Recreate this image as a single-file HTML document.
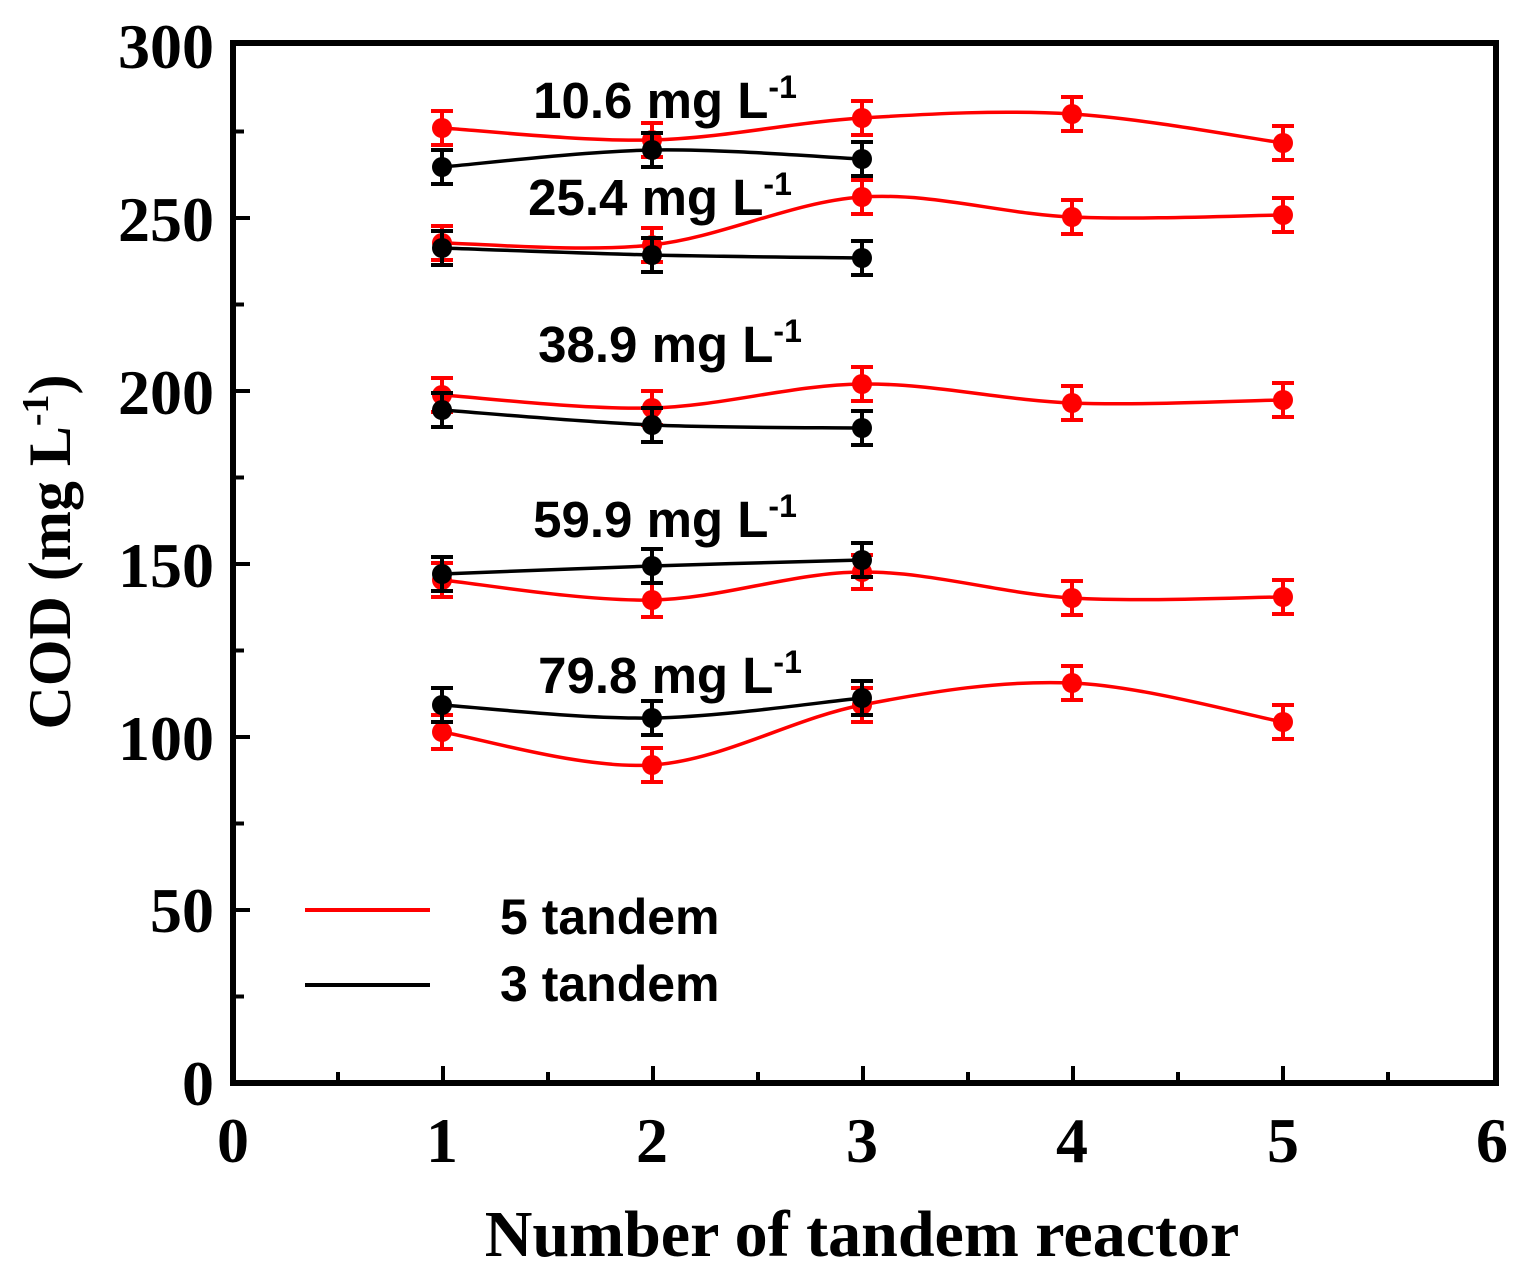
<!DOCTYPE html>
<html><head><meta charset="utf-8"><style>
html,body{margin:0;padding:0;background:#fff;}
svg{display:block;}
.tk{font-family:"Liberation Serif",serif;font-weight:bold;font-size:64px;}
.lb{font-family:"Liberation Sans",sans-serif;font-weight:bold;font-size:51px;}
.lg{font-family:"Liberation Sans",sans-serif;font-weight:bold;font-size:50px;}
</style></head><body>
<svg id="s" width="1525" height="1276" xmlns="http://www.w3.org/2000/svg">
<rect x="233" y="43" width="1263" height="1040" fill="none" stroke="#000" stroke-width="6"/>
<g class="tk" text-anchor="end">
<text x="214" y="1105">0</text><text x="214" y="932">50</text><text x="214" y="760">100</text>
<text x="214" y="587">150</text><text x="214" y="414">200</text><text x="214" y="241">250</text><text x="214" y="68">300</text>
</g>
<g class="tk" text-anchor="middle">
<text x="233" y="1162">0</text><text x="442" y="1162">1</text><text x="652" y="1162">2</text><text x="862" y="1162">3</text>
<text x="1072" y="1162">4</text><text x="1283" y="1162">5</text><text x="1492" y="1162">6</text>
</g>
<text x="862" y="1256" text-anchor="middle" style="font-family:'Liberation Serif',serif;font-weight:bold;font-size:66px">Number of tandem reactor</text>
<text transform="translate(70,552) rotate(-90)" text-anchor="middle" style="font-family:'Liberation Serif',serif;font-weight:bold;font-size:60px">COD (mg L<tspan dy="-22" font-size="38">-1</tspan><tspan dy="22">)</tspan></text>
<g class="lb" text-anchor="middle">
<text x="665" y="118">10.6 mg L<tspan dy="-20" font-size="32">-1</tspan></text>
<text x="660" y="215">25.4 mg L<tspan dy="-20" font-size="32">-1</tspan></text>
<text x="670" y="362">38.9 mg L<tspan dy="-20" font-size="32">-1</tspan></text>
<text x="665" y="537">59.9 mg L<tspan dy="-20" font-size="32">-1</tspan></text>
<text x="670" y="693">79.8 mg L<tspan dy="-20" font-size="32">-1</tspan></text>
</g>
<line x1="305" y1="910" x2="430" y2="910" stroke="#f00" stroke-width="4"/>
<line x1="305" y1="985" x2="430" y2="985" stroke="#000" stroke-width="4"/>
<text class="lg" x="500" y="934">5 tandem</text>
<text class="lg" x="500" y="1001">3 tandem</text>
<g id="g"></g>
</svg>
<script>
var X=[442,652,862,1072,1283];
var red=[[128,140,118,114,143],[243,245,197,217,215],[395,408,384,403,400],[580,600,572,598,597],[732,765,705,683,722]];
var blk=[[167,150,159],[248,255,258],[410,425,428],[574,566,560],[705,718,698]];
var h='';
function path(ys){var p=ys.map((y,i)=>[X[i],y]);var d='M'+p[0];for(var i=0;i<p.length-1;i++){var a=p[i-1]||p[i],b=p[i],c=p[i+1],e=p[i+2]||c;d+=' C'+(b[0]+(c[0]-a[0])/6)+','+(b[1]+(c[1]-a[1])/6)+' '+(c[0]-(e[0]-b[0])/6)+','+(c[1]-(e[1]-b[1])/6)+' '+c[0]+','+c[1];}return d;}
function pts(ys,col){ys.forEach((y,i)=>{var x=X[i];h+='<line x1="'+x+'" y1="'+(y-17)+'" x2="'+x+'" y2="'+(y+17)+'" stroke="'+col+'" stroke-width="4"/><line x1="'+(x-11)+'" y1="'+(y-17)+'" x2="'+(x+11)+'" y2="'+(y-17)+'" stroke="'+col+'" stroke-width="4"/><line x1="'+(x-11)+'" y1="'+(y+17)+'" x2="'+(x+11)+'" y2="'+(y+17)+'" stroke="'+col+'" stroke-width="4"/><circle cx="'+x+'" cy="'+y+'" r="10" fill="'+col+'"/>';});}
red.forEach(ys=>{h+='<path d="'+path(ys)+'" fill="none" stroke="#f00" stroke-width="3.5"/>';pts(ys,'#f00');});
blk.forEach(ys=>{h+='<path d="'+path(ys)+'" fill="none" stroke="#000" stroke-width="3.5"/>';pts(ys,'#000');});
for(var i=1;i<12;i++){var x=233+105*i;h+='<line x1="'+x+'" y1="1080" x2="'+x+'" y2="'+(i%2?1072:1066)+'" stroke="#000" stroke-width="4"/>';}
for(var j=1;j<12;j++){var y=1083-86.5*j;h+='<line x1="236" y1="'+y+'" x2="'+(j%2?244:250)+'" y2="'+y+'" stroke="#000" stroke-width="4"/>';}
document.getElementById('g').innerHTML=h;
</script>
</body></html>
